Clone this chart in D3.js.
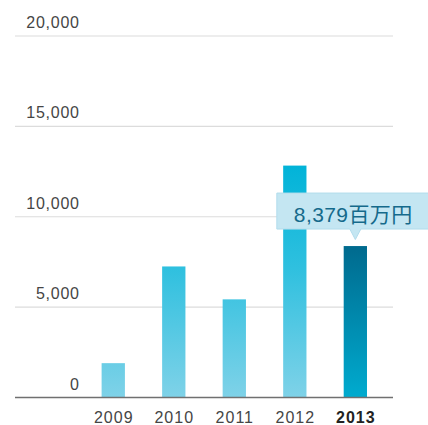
<!DOCTYPE html>
<html>
<head>
<meta charset="utf-8">
<script src="https://cdn.jsdelivr.net/npm/d3@7"></script>
<style>
  html, body { margin: 0; padding: 0; background: #fff; }
  svg { display: block; }
</style>
</head>
<body>
<svg id="chart" width="428" height="425"></svg>
<script>
// Fiscal years and values (百万円)
const years = ["2009", "2010", "2011", "2012", "2013"];
const values = [1900, 7250, 5430, 12830, 8379];
const yTicks = [0, 5000, 10000, 15000, 20000];
const highlightYear = "2013";
const calloutText = "8,379百万円";

const svg = d3.select("#chart");
const fontFamily = "'Liberation Sans', Arial, 'Noto Sans CJK JP', sans-serif";

const y = d3.scaleLinear().domain([0, 20000]).range([397.5, 36]);
const x = d3.scaleBand().domain(years).range([83, 385.6])
  .paddingInner(0.615).paddingOuter(0.3075);

const gridLeft = 15, gridRight = 393;

// Gradients
const defs = svg.append("defs");
const gLight = defs.append("linearGradient")
  .attr("id", "barLight").attr("gradientUnits", "userSpaceOnUse")
  .attr("x1", 0).attr("x2", 0).attr("y1", y(0)).attr("y2", y(13000));
gLight.append("stop").attr("offset", "0%").attr("stop-color", "#7fd2e8");
gLight.append("stop").attr("offset", "55%").attr("stop-color", "#2fc0df");
gLight.append("stop").attr("offset", "100%").attr("stop-color", "#00b3d8");

const gDark = defs.append("linearGradient")
  .attr("id", "barDark").attr("gradientUnits", "userSpaceOnUse")
  .attr("x1", 0).attr("x2", 0).attr("y1", y(0)).attr("y2", y(8379));
gDark.append("stop").attr("offset", "0%").attr("stop-color", "#00abcf");
gDark.append("stop").attr("offset", "100%").attr("stop-color", "#006a8e");

// Gridlines
svg.append("g").selectAll("line")
  .data(yTicks.filter(d => d > 0))
  .join("line")
  .attr("x1", gridLeft).attr("x2", gridRight)
  .attr("y1", d => y(d)).attr("y2", d => y(d))
  .attr("stroke", "#dcdcdc").attr("stroke-width", 1.2);

// Y tick labels
const ySpacing = 0.75;
svg.append("g").selectAll("text")
  .data(yTicks)
  .join("text")
  .attr("x", 79 + ySpacing)
  .attr("y", d => y(d) - 8)
  .attr("text-anchor", "end")
  .attr("font-family", fontFamily)
  .attr("font-size", 16)
  .attr("letter-spacing", ySpacing)
  .attr("fill", "#454545")
  .text(d => d3.format(",")(d));

// Bars
svg.append("g").selectAll("rect")
  .data(years.map((yr, i) => ({ yr, v: values[i] })))
  .join("rect")
  .attr("x", d => x(d.yr))
  .attr("width", x.bandwidth())
  .attr("y", d => y(d.v))
  .attr("height", d => y(0) - y(d.v))
  .attr("fill", d => d.yr === highlightYear ? "url(#barDark)" : "url(#barLight)");

// Baseline
svg.append("line")
  .attr("x1", gridLeft).attr("x2", gridRight)
  .attr("y1", y(0)).attr("y2", y(0))
  .attr("stroke", "#707070").attr("stroke-width", 1.5);

// X labels
const xSpacing = 1;
svg.append("g").selectAll("text")
  .data(years)
  .join("text")
  .attr("x", d => x(d) + x.bandwidth() / 2 + xSpacing / 2)
  .attr("y", 422.5)
  .attr("text-anchor", "middle")
  .attr("font-family", fontFamily)
  .attr("font-size", 16)
  .attr("letter-spacing", xSpacing)
  .attr("font-weight", d => d === highlightYear ? "bold" : "normal")
  .attr("fill", d => d === highlightYear ? "#222" : "#454545")
  .text(d => d);

// Callout over the highlighted bar
const hi = years.indexOf(highlightYear);
const cx = x(highlightYear) + x.bandwidth() / 2;
const tipY = y(values[hi]) - 6.5;
const boxBottom = tipY - 10.5;
const boxTop = boxBottom - 36;
const boxLeft = cx - 78.5;
const boxRight = boxLeft + 160;
const c = svg.append("g");
c.append("path")
  .attr("d", `M${boxLeft},${boxTop} H${boxRight} V${boxBottom} H${cx + 5.5} L${cx},${tipY} L${cx - 5.5},${boxBottom} H${boxLeft} Z`)
  .attr("fill", "#c4e6f2")
  .attr("stroke", "#b2dcec")
  .attr("stroke-width", 1);
c.append("text")
  .attr("x", boxLeft + 17)
  .attr("y", boxBottom - 7.5)
  .attr("font-family", fontFamily)
  .attr("font-size", 21)
  .attr("letter-spacing", 0.4)
  .attr("fill", "#156a8b")
  .text(calloutText);
</script>
</body>
</html>
